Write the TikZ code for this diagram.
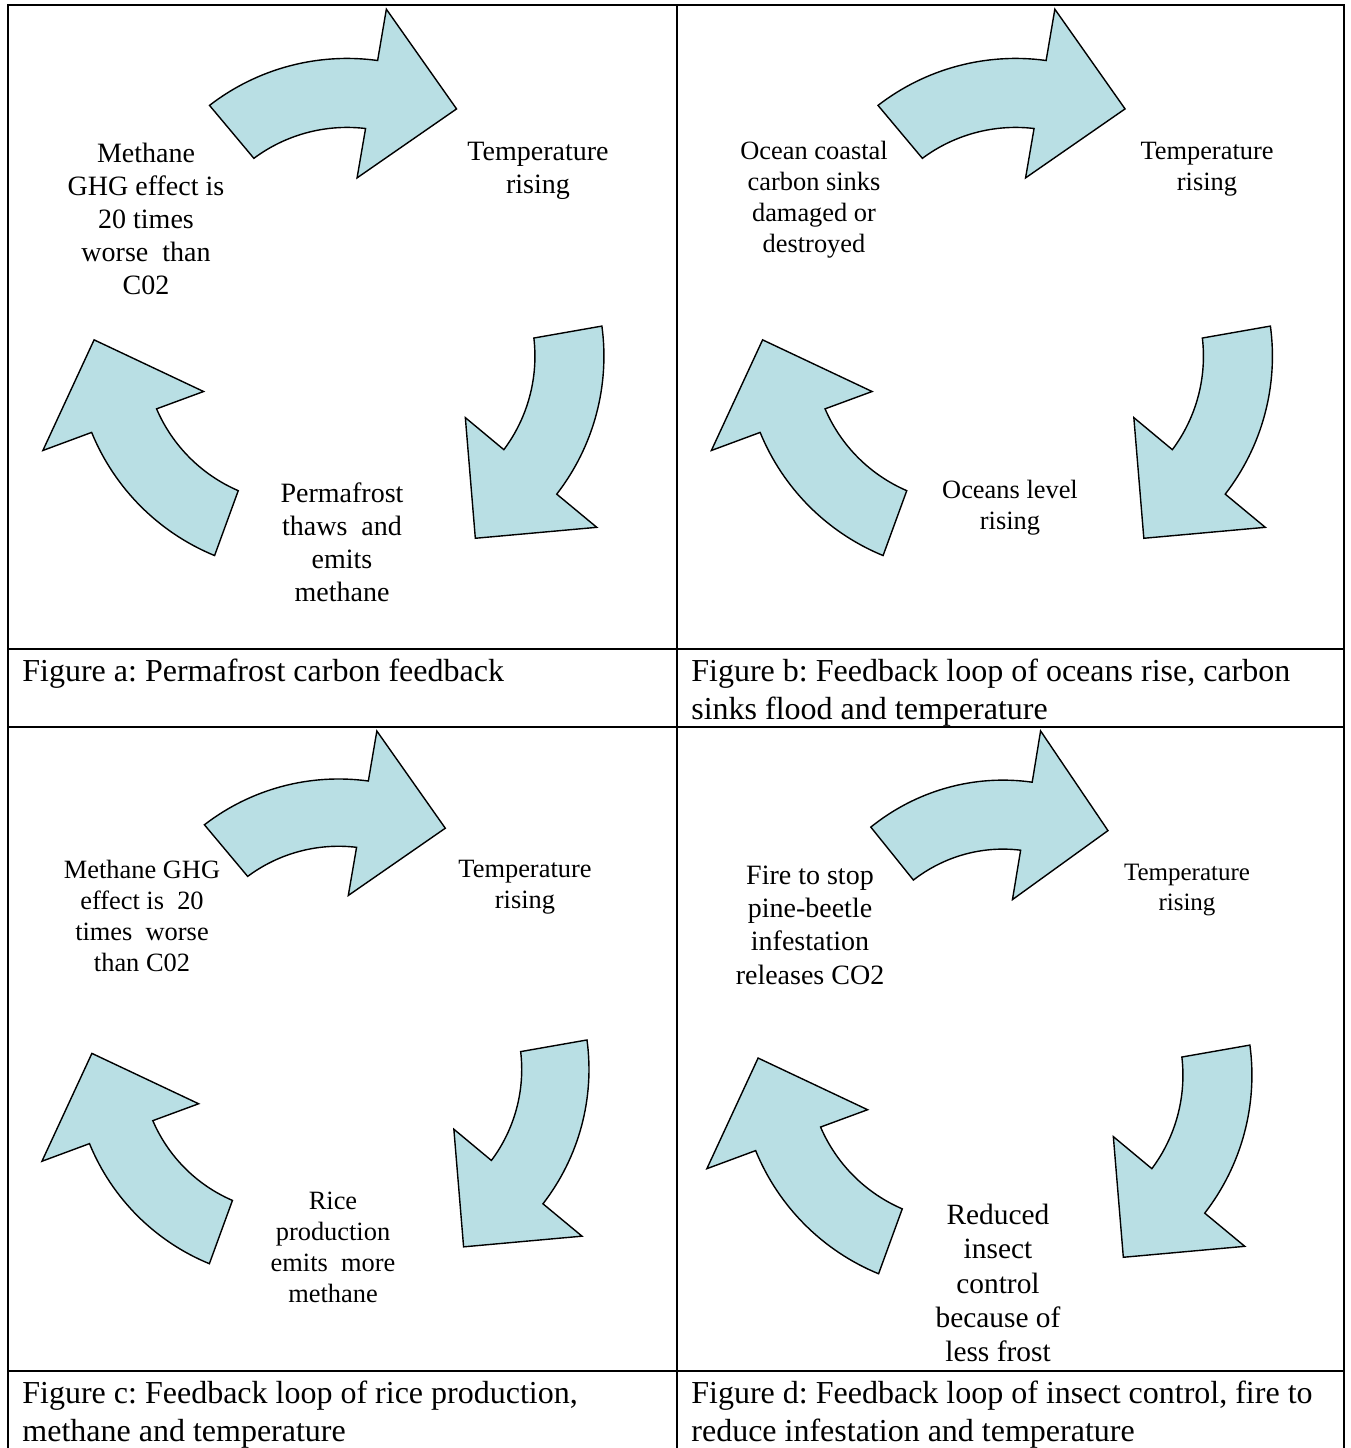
\documentclass[tikz,border=0pt]{standalone}
\usepackage{fontspec}
\setmainfont{Liberation Serif}
\frenchspacing
\definecolor{arrowfill}{RGB}{185,223,228}
\tikzset{
  cycarrow/.style={fill=arrowfill, draw=black, line width=0.7pt, line join=miter},
  pics/looparrow/.style={code={
    \begin{scope}[shift={(5.1,45.6)}]
      \draw[cycarrow] (127.7:225) arc[start angle=127.7, end angle=82.2, radius=225]
        -- (81.85:277) -- (57.9:206) -- (84.6:106) -- (83.2:156)
        arc[start angle=83.2, end angle=126.7, radius=156] -- cycle;
    \end{scope}
  }},
  grid/.style={line width=1pt, black},
  lbl/.style={align=center, inner sep=0pt},
  lblA/.style={lbl, font=\fontsize{14}{16.5}\selectfont},
  lblB/.style={lbl, font=\fontsize{13.2}{15.5}\selectfont},
  capt/.style={align=left, anchor=north west, inner sep=0pt, font=\fontsize{16}{19}\selectfont}
}
\begin{document}
\begin{tikzpicture}[x=0.5pt, y=0.5pt]
\useasboundingbox (0,0) rectangle (1351,-1448);
\fill[white] (0,0) rectangle (1351,-1448);
% table rules
\draw[grid] (7.5,-1448) -- (7.5,-5) -- (1344,-5) -- (1344,-1448);
\draw[grid] (676.5,-5) -- (676.5,-1448);
\draw[grid] (7.5,-649) -- (1344,-649);
\draw[grid] (7.5,-727) -- (1344,-727);
\draw[grid] (7.5,-1371) -- (1344,-1371);
% cycle a
\pic at (342,-329) {looparrow};
\pic[rotate=-120] at (342,-329) {looparrow};
\pic[rotate=120] at (342,-329) {looparrow};
% cycle b
\pic at (1010.5,-329) {looparrow};
\pic[rotate=-120] at (1010.5,-329) {looparrow};
\pic[rotate=120] at (1010.5,-329) {looparrow};
% cycle c
\pic[scale=0.975] at (333.6,-1042.8) {looparrow};
\pic[rotate=-120, scale=0.975] at (333.6,-1042.8) {looparrow};
\pic[rotate=120, scale=0.975] at (333.6,-1042.8) {looparrow};
% cycle d
\pic[xscale=0.96] at (998,-1050.7) {looparrow};
\pic[rotate=-120] at (990,-1048) {looparrow};
\pic[rotate=120] at (1006,-1047.2) {looparrow};
% cell a
\node[lblA] (a1) at (146,-219) {Methane\\GHG effect is\\20 times\\worse~~than\\C02};
\node[lblA] (a2) at (538,-171) {Temperature\\rising};
\node[lblA] (a3) at (342,-542) {Permafrost\\thaws~~and\\emits\\methane};
% cell b
\node[lblB] (b1) at (814,-200) {Ocean coastal\\carbon sinks\\damaged or\\destroyed};
\node[lblB] (b2) at (1207,-169) {Temperature\\rising};
\node[lblB] (b3) at (1010,-508) {Oceans level\\rising};
% cell c
\node[lblB] (c1) at (142,-916) {Methane GHG\\effect is~~20\\times~~worse\\than C02};
\node[lblB] (c2) at (525,-887) {Temperature\\rising};
\node[lblB] (c3) at (333,-1247) {Rice\\production\\emits~~more\\methane};
% cell d
\node[lbl, font=\fontsize{14}{16.7}\selectfont] (d1) at (810,-925) {Fire to stop\\pine-beetle\\infestation\\releases CO2};
\node[lbl, font=\fontsize{12.5}{15}\selectfont] (d2) at (1187,-890) {Temperature\\rising};
\node[lbl, font=\fontsize{14.7}{17.1}\selectfont] (d3) at (998,-1283) {Reduced\\insect\\control\\because of\\less frost};
% captions
\node[capt] (ca) at (22,-659) {Figure a: Permafrost carbon feedback};
\node[capt] (cb) at (691,-659) {Figure b: Feedback loop of oceans rise, carbon\\sinks flood and temperature};
\node[capt] (cc) at (22,-1381) {Figure c: Feedback loop of rice production,\\methane and temperature};
\node[capt] (cd) at (691,-1381) {Figure d: Feedback loop of insect control, fire to\\reduce infestation and temperature};
\end{tikzpicture}
\end{document}
